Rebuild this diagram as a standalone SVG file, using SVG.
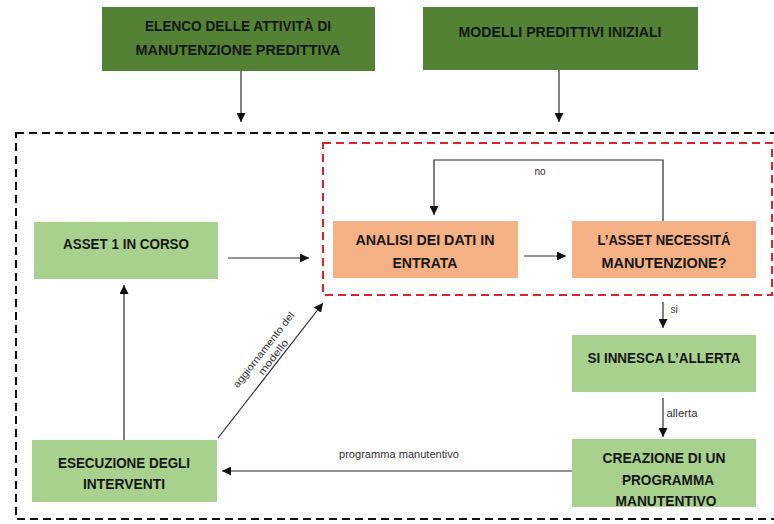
<svg xmlns="http://www.w3.org/2000/svg" width="774" height="524" viewBox="0 0 774 524">
<style>
.dk{fill:#548235}
.lg{fill:#a9d18e}
.or{fill:#f4b183}
.t{font-family:"Liberation Sans",Arial,sans-serif;font-weight:bold;font-size:14px;fill:#161616;text-anchor:middle}
.s{font-family:"Liberation Sans",Arial,sans-serif;font-size:10px;fill:#333;text-anchor:middle}
.ln{stroke:#2b2b2b;stroke-width:1.2;fill:none}
.ar{marker-end:url(#ah)}
</style>
<defs>
<marker id="ah" viewBox="0 0 10 10" refX="10" refY="5" markerWidth="9" markerHeight="9" markerUnits="userSpaceOnUse" orient="auto">
<path d="M0,0L10,5L0,10z" fill="#111"/>
</marker>
</defs>
<rect width="774" height="524" fill="#fff"/>
<g id="frames">
<rect x="16" y="133" width="780" height="386" fill="none" stroke="#111" stroke-width="2" stroke-dasharray="8,5"/>
<rect x="323" y="143" width="449" height="152" fill="none" stroke="#e0202a" stroke-width="2" stroke-dasharray="8,5"/>
</g>
<g id="n1"><rect class="dk" x="102" y="7" width="273" height="64"/>
<text class="t" x="238" y="31" textLength="186" lengthAdjust="spacingAndGlyphs">ELENCO DELLE ATTIVITÀ DI</text>
<text class="t" x="238" y="55" textLength="205" lengthAdjust="spacingAndGlyphs">MANUTENZIONE PREDITTIVA</text></g>
<g id="n2"><rect class="dk" x="423" y="7" width="275" height="63"/>
<text class="t" x="560" y="37" textLength="203" lengthAdjust="spacingAndGlyphs">MODELLI PREDITTIVI INIZIALI</text></g>
<g id="n3"><rect class="lg" x="34" y="222" width="184" height="57"/>
<text class="t" x="126" y="249" textLength="126" lengthAdjust="spacingAndGlyphs">ASSET 1 IN CORSO</text></g>
<g id="n4"><rect class="or" x="333" y="221" width="185" height="57"/>
<text class="t" x="425" y="245" textLength="139" lengthAdjust="spacingAndGlyphs">ANALISI DEI DATI IN</text>
<text class="t" x="425" y="268" textLength="65" lengthAdjust="spacingAndGlyphs">ENTRATA</text></g>
<g id="n5"><rect class="or" x="572" y="221" width="184" height="57"/>
<text class="t" x="664" y="245" textLength="133" lengthAdjust="spacingAndGlyphs">L’ASSET NECESSITÁ</text>
<text class="t" x="664" y="268" textLength="125" lengthAdjust="spacingAndGlyphs">MANUTENZIONE?</text></g>
<g id="n6"><rect class="lg" x="572" y="335" width="184" height="57"/>
<text class="t" x="664" y="363" textLength="153" lengthAdjust="spacingAndGlyphs">SI INNESCA L’ALLERTA</text></g>
<g id="n7"><rect class="lg" x="572" y="439" width="184" height="68"/>
<text class="t" x="664" y="463" textLength="123" lengthAdjust="spacingAndGlyphs">CREAZIONE DI UN</text>
<text class="t" x="668" y="485" textLength="92" lengthAdjust="spacingAndGlyphs">PROGRAMMA</text>
<text class="t" x="666" y="506" textLength="101" lengthAdjust="spacingAndGlyphs">MANUTENTIVO</text></g>
<g id="n8"><rect class="lg" x="32" y="440" width="185" height="62"/>
<text class="t" x="124" y="468" textLength="132" lengthAdjust="spacingAndGlyphs">ESECUZIONE DEGLI</text>
<text class="t" x="124" y="489" textLength="82" lengthAdjust="spacingAndGlyphs">INTERVENTI</text></g>
<g id="connectors">
<line class="ln ar" x1="241" y1="71" x2="241" y2="122"/>
<line class="ln ar" x1="559" y1="70" x2="559" y2="122"/>
<line class="ln ar" x1="228" y1="258" x2="309" y2="258"/>
<line class="ln ar" x1="524" y1="256" x2="566" y2="256"/>
<polyline class="ln ar" points="663,221 663,160 434,160 434,215"/>
<text class="s" x="540" y="175">no</text>
<line class="ln ar" x1="663" y1="302" x2="663" y2="328"/>
<text class="s" x="674" y="313">si</text>
<line class="ln ar" x1="663" y1="398" x2="663" y2="437"/>
<text class="s" x="682" y="417" textLength="31" lengthAdjust="spacingAndGlyphs">allerta</text>
<line class="ln ar" x1="572" y1="471" x2="222" y2="471"/>
<text class="s" x="399" y="458" textLength="120" lengthAdjust="spacingAndGlyphs">programma manutentivo</text>
<line class="ln ar" x1="124" y1="440" x2="124" y2="285"/>
<line class="ln ar" x1="218" y1="438" x2="323" y2="303"/>
<g transform="translate(264,350) rotate(-52)">
<text class="s" x="0" y="3" textLength="93" lengthAdjust="spacingAndGlyphs">aggiornamento del</text>
<text class="s" x="0" y="15" textLength="42" lengthAdjust="spacingAndGlyphs">modello</text>
</g>
</g>
</svg>
